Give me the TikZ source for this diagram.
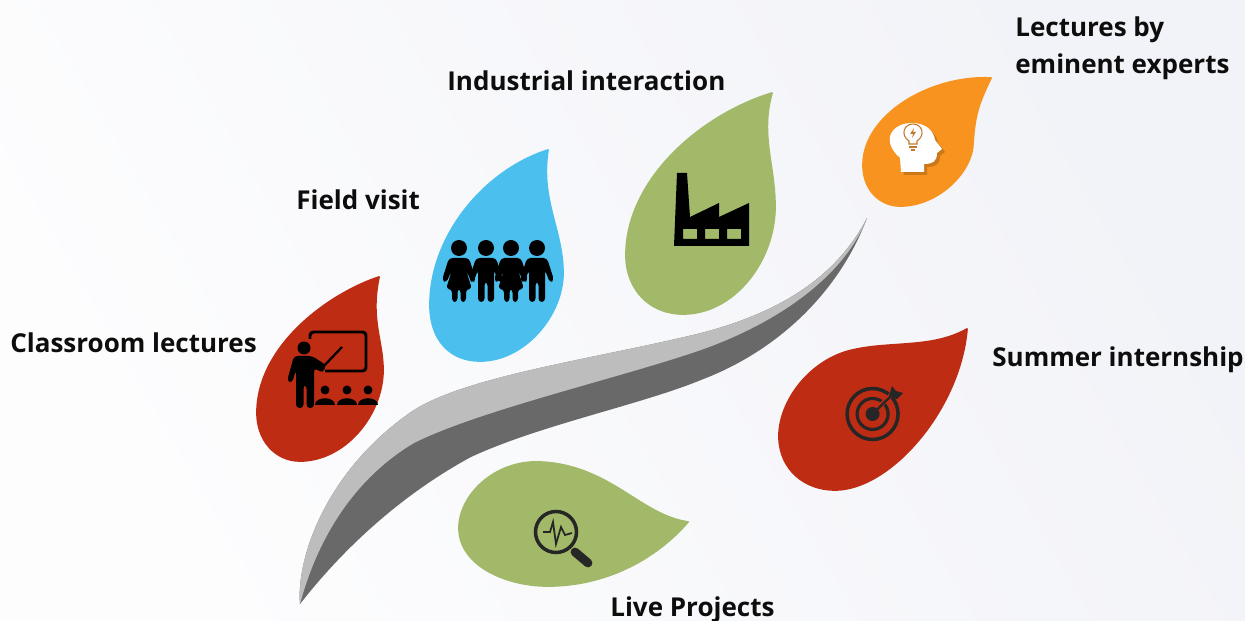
\documentclass[tikz,border=0pt]{standalone}
\usepackage{fontspec}
\setmainfont{Open Sans}
\usepackage{tikz}

\definecolor{backLight}{HTML}{FDFDFE}
\definecolor{backDark}{HTML}{F2F3F8}
\definecolor{leafRed}{HTML}{BE2D13}
\definecolor{leafBlue}{HTML}{4BC0EE}
\definecolor{leafGreen}{HTML}{A2B969}
\definecolor{leafOrange}{HTML}{F7931E}
\definecolor{swooshLight}{HTML}{BDBDBD}
\definecolor{swooshDark}{HTML}{696969}
\definecolor{iconDark}{HTML}{262626}
\definecolor{bulbBrown}{HTML}{C07A30}

\tikzset{
  label/.style={anchor=base west,inner sep=0pt,font=\fontsize{14.8}{20.5}\selectfont\bfseries,text=black!95},
  leaf/.style={fill=#1,draw=#1,line width=1pt,line join=round},
  girlKid/.pic={
    \fill (0,0) circle (8);
    \fill [rounded corners=2pt] (-10,10) -- (10,10) -- (17,32) -- (13,35) -- (7,22) -- (13,41) -- (7,41) -- (7,54) -- (1.5,54) -- (1.5,41) -- (-1.5,41) -- (-1.5,54) -- (-7,54) -- (-7,41) -- (-13,41) -- (-7,22) -- (-13,35) -- (-17,32) -- cycle;
  },
  boyKid/.pic={
    \fill (0,0) circle (8);
    \fill [rounded corners=2pt] (-10,10) -- (10,10) -- (17,32) -- (13,35) -- (8,22) -- (8,54) -- (1.5,54) -- (1.5,34) -- (-1.5,34) -- (-1.5,54) -- (-8,54) -- (-8,22) -- (-13,35) -- (-17,32) -- cycle;
  },
  seatKid/.pic={
    \fill (0,0) circle (4.5);
    \fill (-10,15) .. controls (-10,6) and (10,6) .. (10,15) -- cycle;
  }
}

\begin{document}
\begin{tikzpicture}[x=0.02cm,y=-0.02cm]

\useasboundingbox (0,0) rectangle (1245,621);
\shade [left color=backLight,right color=backDark,shading angle=120] (0,0) rectangle (1245,621);

% swoosh
\fill [swooshDark] (300,604) .. controls (296,560) and (325,470) .. (414,410) .. controls (470,375) and (600,358) .. (701,333) .. controls (790,310) and (840,270) .. (867,218)
  .. controls (840,290) and (780,350) .. (701,380) .. controls (640,405) and (540,425) .. (471,457) .. controls (410,490) and (350,540) .. (300,604) -- cycle;
\fill [swooshLight] (300,604) .. controls (296,560) and (325,470) .. (414,410) .. controls (470,375) and (600,358) .. (701,333) .. controls (790,310) and (840,270) .. (867,218)
  .. controls (845,275) and (780,322) .. (701,350) .. controls (620,378) and (480,410) .. (414,443) .. controls (360,475) and (320,530) .. (300,604) -- cycle;

% leaves
\path [leaf=leafRed] (379,277) .. controls (330,293) and (257,345) .. (257,413) .. controls (257,440) and (275,461) .. (300,461) .. controls (345,461) and (383,415) .. (383,370) .. controls (383,340) and (370,320) .. (379,277) -- cycle;
\path [leaf=leafBlue] (548,150) .. controls (485,170) and (430,235) .. (430,305) .. controls (430,340) and (450,361) .. (480,361) .. controls (525,361) and (563,315) .. (563,273) .. controls (563,230) and (540,200) .. (548,150) -- cycle;
\path [leaf=leafGreen] (772,93) .. controls (700,115) and (626,180) .. (626,255) .. controls (626,290) and (650,314) .. (683,314) .. controls (735,314) and (775,260) .. (775,207) .. controls (775,165) and (760,135) .. (772,93) -- cycle;
\path [leaf=leafOrange] (991,78) .. controls (930,75) and (863,115) .. (863,165) .. controls (863,190) and (880,206) .. (900,206) .. controls (940,206) and (973,170) .. (973,143) .. controls (975,115) and (978,105) .. (991,78) -- cycle;
\path [leaf=leafRed] (967,329) .. controls (930,350) and (885,340) .. (845,352) .. controls (805,365) and (778,405) .. (779,438) .. controls (780,470) and (805,490) .. (835,490) .. controls (890,490) and (960,410) .. (967,329) -- cycle;
\path [leaf=leafGreen] (688,522) .. controls (640,515) and (610,465) .. (540,462) .. controls (495,460) and (459,495) .. (459,528) .. controls (459,565) and (505,586) .. (548,586) .. controls (605,586) and (655,560) .. (688,522) -- cycle;

% teacher
\draw [line width=1.7pt,rounded corners=2pt] (310,339) -- (310,332) -- (366,332) -- (366,371) -- (325,371);
\fill (304,348) circle (6.5);
\fill [rounded corners=2pt] (294,356) -- (312,356) -- (326,365) -- (323,373) -- (314,368) -- (314,408) -- (306.5,408) -- (306.5,385) -- (303.5,385) -- (303.5,408) -- (296,408) -- (296,370) -- (292,383) -- (287,381) -- cycle;
\draw [line width=1.3pt] (322,368) -- (342,347);
\pic at (325,390) {seatKid};
\pic at (347,390) {seatKid};
\pic at (368,390) {seatKid};

% kids
\pic at (459,248) {girlKid};
\pic at (486,248) {boyKid};
\pic at (511,248) {girlKid};
\pic at (537,248) {boyKid};

% factory
\fill [even odd rule] (677,173) -- (687,173) -- (690,217) -- (719,203) -- (719,217) -- (749,203) -- (749,246) -- (674,246) -- cycle
  (683,229) rectangle (697,239) (705,229) rectangle (719,239) (727,229) rectangle (741,239);

% head
\fill [leafOrange!70!black,opacity=0.6] (904,175) -- (903,161) .. controls (883,143) and (895,126) .. (915,126) .. controls (930,126) and (937,135) .. (938,143) -- (945,152) -- (940,156) .. controls (940,165) and (935,167) .. (927,167) -- (927,175) -- cycle;
\fill [white] (901,172) -- (900,158) .. controls (880,140) and (892,123) .. (912,123) .. controls (927,123) and (934,132) .. (935,140) -- (942,149) -- (937,153) .. controls (937,162) and (932,164) .. (924,164) -- (924,172) -- cycle;
\draw [bulbBrown,line width=0.6pt] (909,144) -- (909,141) .. controls (900,135) and (904,124) .. (913,124) .. controls (922,124) and (926,135) .. (917,141) -- (917,144) -- cycle;
\draw [bulbBrown,line width=0.6pt] (909,147) -- (917,147) (911,150) -- (915,150);
\fill [bulbBrown] (914,128) -- (910,134) -- (913,134) -- (912,138) -- (916,132) -- (913,132) -- cycle;

% target
\draw [iconDark,line width=2pt] (872.6,414) circle (25.5);
\draw [iconDark,line width=1.8pt] (872.6,414) circle (15.5);
\fill [iconDark] (872.6,414) circle (7);
\draw [leafRed,line width=2.5pt] (878,408) -- (896,390);
\draw [iconDark,line width=1.3pt] (872.6,414) -- (894,393);
\fill [iconDark] (889,396) -- (892,386) -- (896,391) -- (903,393) -- (897,399) -- cycle;

% magnifier
\draw [iconDark,line width=2pt] (556,532) circle (20.5);
\draw [iconDark,line width=5pt,line cap=round] (575,552) -- (588,563);
\draw [iconDark,line width=1pt] (543,532) -- (550,532) -- (553,522) -- (556,544) -- (561,527) -- (565,535) -- (572,533);

% texts
\node (ClassroomLectures) at (10,353) [label]{Classroom lectures};
\node (FieldVisit) at (296,210) [label]{Field visit};
\node (IndustrialInteraction) at (447,91) [label]{Industrial interaction};
\node (LecturesBy) at (1015,37) [label]{Lectures by};
\node (EminentExperts) at (1015,74) [label]{eminent experts};
\node (SummerInternship) at (992,367) [label]{Summer internship};
\node (LiveProjects) at (610,617) [label]{Live Projects};

\end{tikzpicture}
\end{document}
